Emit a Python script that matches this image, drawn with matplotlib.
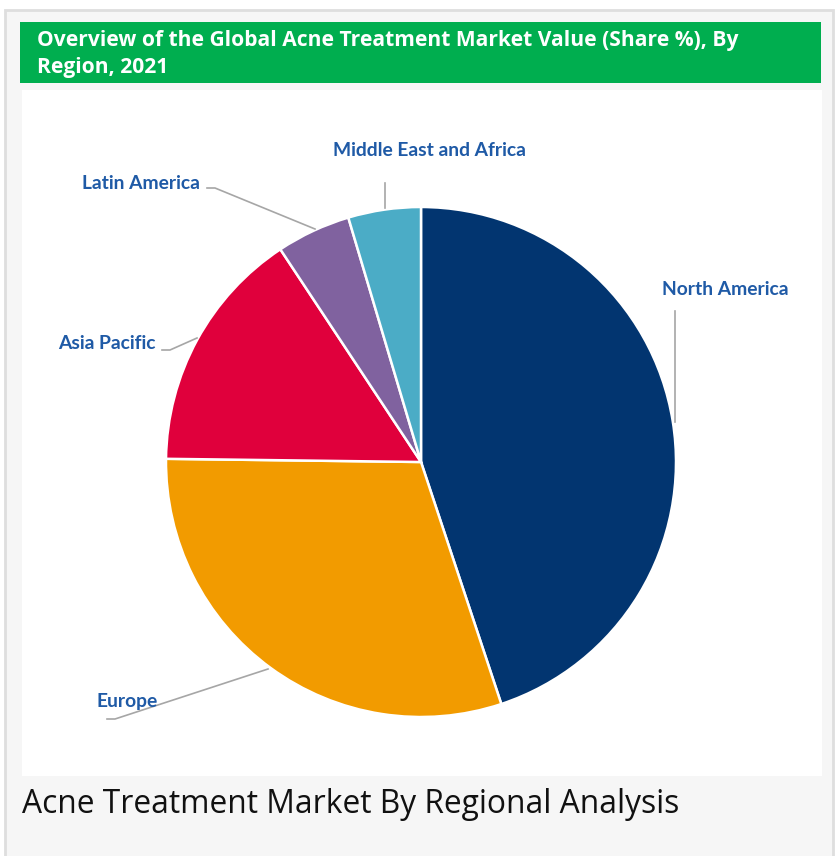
import matplotlib.pyplot as plt
from matplotlib.patches import Rectangle

# Share of global acne treatment market value by region, 2021 (%)
regions = ['North America', 'Europe', 'Asia Pacific', 'Latin America', 'Middle East and Africa']
shares = [44.9, 30.3, 15.5, 4.7, 4.6]
colors = ['#023570', '#f29b00', '#e0003c', '#80629f', '#4bacc6']

title_lines = ['Overview of the Global Acne Treatment Market Value (Share %), By', 'Region, 2021']
caption = 'Acne Treatment Market By Regional Analysis'

# label anchor (left x, baseline y) and leader line points, in pixel coords of the 836x856 image
label_pos = {
    'North America': (662, 295),
    'Europe': (97, 707),
    'Asia Pacific': (58, 349),
    'Latin America': (82, 189),
    'Middle East and Africa': (333, 156),
}
leaders = {
    'North America': [(675, 311), (675, 422)],
    'Europe': [(107, 719), (115, 719), (268, 669)],
    'Asia Pacific': [(162, 350), (170, 350), (197, 338)],
    'Latin America': [(207, 188), (215, 188), (315, 229)],
    'Middle East and Africa': [(385, 183), (385, 208)],
}

W, H = 836, 856
fig = plt.figure(figsize=(W / 100, H / 100), dpi=100)
fig.patch.set_facecolor('white')
ax = fig.add_axes([0, 0, 1, 1])

# panel backgrounds
ax.add_patch(Rectangle((5, 10), 828, 850, facecolor='#f6f6f6', edgecolor='#dedede', linewidth=2, zorder=0))
ax.add_patch(Rectangle((20, 22), 801, 61, facecolor='#00ae4f', edgecolor='none', zorder=1))
ax.add_patch(Rectangle((22, 90), 800, 686, facecolor='white', edgecolor='none', zorder=1))

# y axis runs downward, so counterclock + startangle -90 gives clockwise from 12 o'clock on screen
ax.pie(shares, colors=colors, startangle=-90, counterclock=True,
       center=(421, 462), radius=255,
       wedgeprops=dict(edgecolor='white', linewidth=1.8, zorder=2))

for name in regions:
    x, y = label_pos[name]
    ax.text(x, y, name, ha='left', va='baseline', fontsize=13.9, fontweight='bold',
            family='Lato', color='#1f5aa6', zorder=4)
    pts = leaders[name]
    ax.plot([p[0] for p in pts], [p[1] for p in pts], color='#a6a6a6', linewidth=1.2, zorder=3)

for line, base in zip(title_lines, [46, 73]):
    ax.text(37, base, line, ha='left', va='baseline', fontsize=15.1, fontweight='bold',
            family='Open Sans', color='white', zorder=4)
ax.text(22, 813, caption, ha='left', va='baseline', fontsize=22.9,
        family='Open Sans', color='#111111', zorder=4)

ax.set_xlim(0, W)
ax.set_ylim(H, 0)
ax.set_aspect('auto')
ax.axis('off')

fig.savefig('out.png', dpi=100)
